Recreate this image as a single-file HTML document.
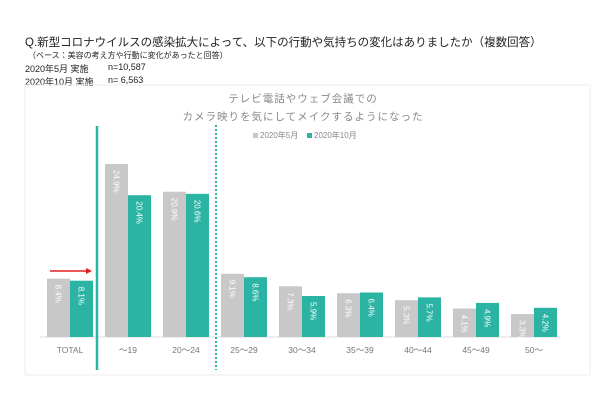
<!DOCTYPE html>
<html><head><meta charset="utf-8"><style>
body{margin:0;background:#fff;width:600px;height:400px;overflow:hidden;font-family:"Liberation Sans","Noto Sans CJK JP",sans-serif}
.h{position:absolute;left:25px;color:#222;white-space:nowrap}
</style></head><body>
<div class="h" style="top:34px;font-size:11.5px">Q.新型コロナウイルスの感染拡大によって、以下の行動や気持ちの変化はありましたか（複数回答）</div>
<div class="h" style="top:50px;font-size:8px;left:28px">（ベース：美容の考え方や行動に変化があったと回答）</div>
<div class="h" style="top:62px;font-size:9px">2020年5月 実施<span style="position:absolute;left:83px">n=10,587</span></div>
<div class="h" style="top:75px;font-size:9px">2020年10月 実施<span style="position:absolute;left:83px">n= 6,563</span></div>
<svg width="600" height="400" style="position:absolute;left:0;top:0">
<rect x="25" y="85" width="565" height="290" fill="none" stroke="#eeeeee"/>
<text x="303" y="102" text-anchor="middle" font-size="10.5" fill="#888" letter-spacing="1">テレビ電話やウェブ会議での</text>
<text x="303" y="120" text-anchor="middle" font-size="10.5" fill="#888" letter-spacing="1">カメラ映りを気にしてメイクするようになった</text>
<g font-size="8" fill="#888">
<rect x="253" y="133" width="5" height="5" fill="#c8c8c8"/><text x="260" y="138">2020年5月</text>
<rect x="307" y="133" width="5" height="5" fill="#2bb3a3"/><text x="314" y="138">2020年10月</text>
</g>
<line x1="40" y1="337" x2="560" y2="337" stroke="#ddd"/>
<g id="bars"></g>
<line x1="97" y1="126" x2="97" y2="370" stroke="#2bb3a3" stroke-width="2.5"/>
<line x1="216" y1="125" x2="216" y2="370" stroke="#2bb3a3" stroke-width="2" stroke-dasharray="2,2"/>
<g><line x1="50" y1="271" x2="86" y2="271" stroke="#e02020" stroke-width="1.5"/><polygon points="86,268 92,271 86,274" fill="#e02020"/></g>
</svg>
<script>
const categories=["TOTAL","～19","20～24","25～29","30～34","35～39","40～44","45～49","50～"];
const may=[8.4,24.9,20.9,9.1,7.3,6.3,5.3,4.1,3.3];
const oct=[8.1,20.4,20.6,8.6,5.9,6.4,5.7,4.9,4.2];
const NS="http://www.w3.org/2000/svg";
const g=document.getElementById("bars");
const base=337,scale=6.95,x0=70,step=58,bw=23;
const y=v=>base-v*scale;
function mk(t,a){const e=document.createElementNS(NS,t);for(const k in a)e.setAttribute(k,a[k]);return e;}
categories.forEach((c,i)=>{
 const cx=x0+i*step;
 [[may[i],cx-bw,"#c8c8c8","may"],[oct[i],cx,"#2bb3a3","oct"]].forEach(([v,bx,col,s])=>{
  const r=mk("rect",{x:bx,y:y(v),width:bw,height:base-y(v),fill:col});
  
  
  g.appendChild(r);
  const px=bx+bw/2,py=y(v)+6;
  const t=mk("text",{x:px,y:py+3,"font-size":"8",fill:"#fff","text-anchor":"start",transform:`rotate(90 ${px} ${py})`});
  t.textContent=v.toFixed(1)+"%";
  
  
  g.appendChild(t);
 });
 const l=mk("text",{x:cx,y:353,"font-size":"8.5",fill:"#777","text-anchor":"middle"});
 l.textContent=c;
 
 
 g.appendChild(l);
});
</script>
</body></html>
